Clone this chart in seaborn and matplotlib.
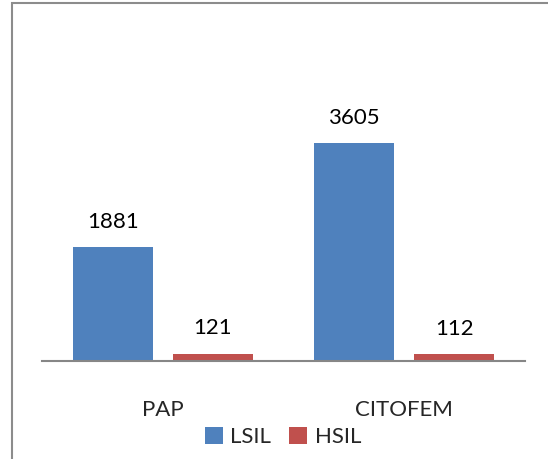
import pandas as pd
import matplotlib
matplotlib.use('Agg')
import matplotlib.pyplot as plt
import seaborn as sns
from matplotlib.patches import Rectangle

# ── Data ──────────────────────────────────────────────────────────────────────
categories = ['PAP', 'CITOFEM']
series = ['LSIL', 'HSIL']
lsil = [1881, 3605]
hsil = [121, 112]
colors = ['#4F81BD', '#C0504D']

df = pd.DataFrame({
    'cat': categories * 2,
    'serie': [series[0]] * 2 + [series[1]] * 2,
    'val': lsil + hsil,
})

# ── Plot ──────────────────────────────────────────────────────────────────────
sns.set_style('white')
plt.rcParams['font.family'] = ['Lato', 'DejaVu Sans']

W, H = 548, 459
fig = plt.figure(figsize=(W / 100, H / 100), dpi=100)
ax = fig.add_axes([42 / W, 98 / H, (525 - 42) / W, (361 - 119) / H])

sns.barplot(data=df, x='cat', y='val', hue='serie', order=categories,
            hue_order=series, palette=colors, width=0.828, gap=0.2,
            saturation=1, linewidth=0, ax=ax, legend=True)

ax.set_ylim(0, 4000)
ax.set_xlim(-0.5, 1.5)
for c in ax.containers:
    ax.bar_label(c, padding=11, fontsize=16, color='black')

for s in ['top', 'right', 'left']:
    ax.spines[s].set_visible(False)
ax.spines['bottom'].set_color('#868686')
ax.spines['bottom'].set_linewidth(1.5)
ax.set_yticks([])
ax.set_xlabel('')
ax.set_ylabel('')
ax.tick_params(axis='x', length=0, pad=28, labelsize=16)

leg = ax.legend(loc='center', bbox_to_anchor=(283 / W, 1 - 437 / H),
                bbox_transform=fig.transFigure, ncol=2, frameon=False,
                fontsize=16, handlelength=0.8, handleheight=0.8,
                handletextpad=0.35, columnspacing=0.8, borderaxespad=0)
for h in leg.legend_handles:
    h.set_edgecolor('none')
    h.set_linewidth(0)

# outer border of the chart area
fig.patches.append(Rectangle((12 / W, -0.1), 1.2, 1 - 3 / H + 0.1,
                             transform=fig.transFigure, fill=False,
                             edgecolor='#8C8C8C', linewidth=1.5))

fig.savefig('out.png', dpi=100)
